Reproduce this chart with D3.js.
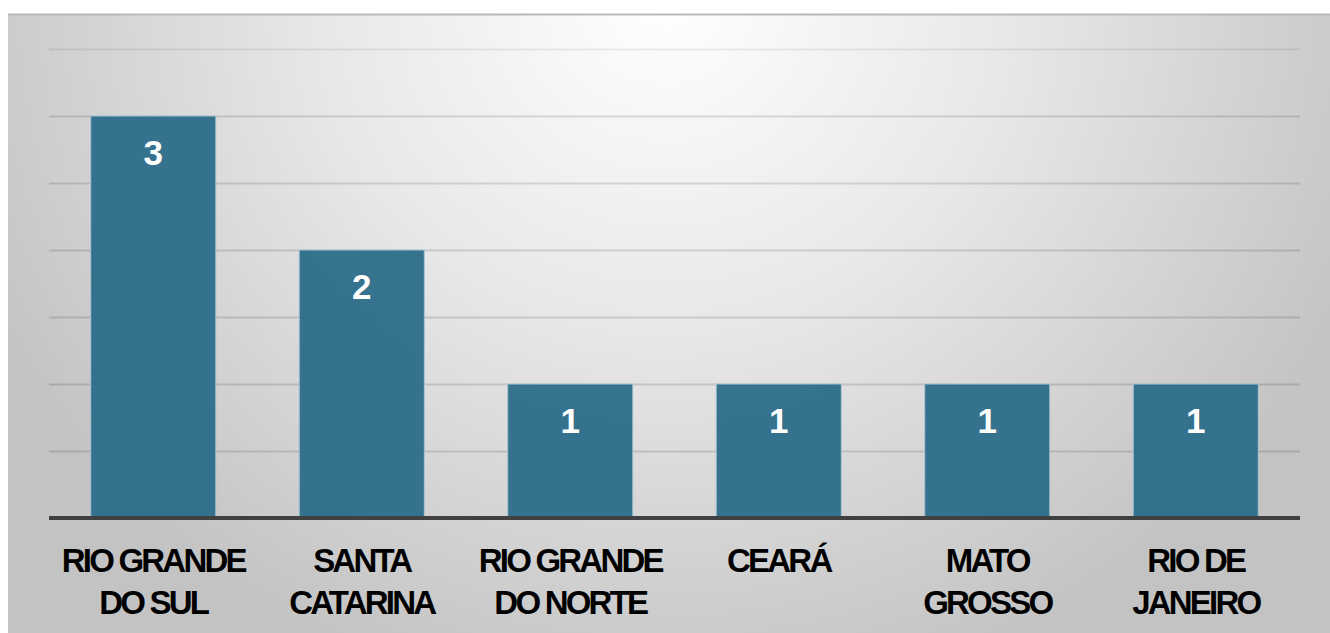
<!DOCTYPE html>
<html>
<head>
<meta charset="utf-8">
<script src="https://cdn.jsdelivr.net/npm/d3@7"></script>
<style>
  html, body { margin: 0; padding: 0; background: #ffffff; }
  svg { display: block; }
</style>
</head>
<body>
<svg id="chart" width="1330" height="633"></svg>
<script>
// States and their counts
const states = [
  ["RIO GRANDE", "DO SUL"],
  ["SANTA", "CATARINA"],
  ["RIO GRANDE", "DO NORTE"],
  ["CEARÁ"],
  ["MATO", "GROSSO"],
  ["RIO DE", "JANEIRO"]
];
const counts = [3, 2, 1, 1, 1, 1];
const gridValues = [0.5, 1, 1.5, 2, 2.5, 3, 3.5];

const W = 1330, H = 633;
const svg = d3.select("#chart");
const defs = svg.append("defs");

// Soft grey panel, bright near the top centre
const bg = defs.append("radialGradient")
  .attr("id", "panelGrad")
  .attr("gradientUnits", "userSpaceOnUse")
  .attr("cx", 665).attr("cy", 0).attr("r", 760)
  .attr("gradientTransform", "translate(665,0) scale(1,0.95) translate(-665,0)");
bg.append("stop").attr("offset", "0").attr("stop-color", "#ffffff");
bg.append("stop").attr("offset", "0.45").attr("stop-color", "#e8e8e8");
bg.append("stop").attr("offset", "1").attr("stop-color", "#c3c3c3");

svg.append("rect")
  .attr("x", 8).attr("y", 14)
  .attr("width", W - 8).attr("height", H - 14)
  .attr("fill", "url(#panelGrad)");
svg.append("line")
  .attr("x1", 8).attr("x2", W).attr("y1", 14.5).attr("y2", 14.5)
  .attr("stroke", "#b9b9b9").attr("stroke-width", 2);

const x = d3.scaleBand()
  .domain(d3.range(counts.length))
  .range([49, 1300])
  .paddingInner(0.4)
  .paddingOuter(0.2);
const y = d3.scaleLinear().domain([0, 3.5]).range([518, 49]);

// Horizontal gridlines
svg.append("g")
  .selectAll("line")
  .data(gridValues)
  .join("line")
  .attr("x1", 49).attr("x2", 1300)
  .attr("y1", d => Math.round(y(d)) + 0.5)
  .attr("y2", d => Math.round(y(d)) + 0.5)
  .attr("stroke", d => d === 3.5 ? "rgba(0,0,0,0.07)" : "rgba(0,0,0,0.13)")
  .attr("stroke-width", 2);

// Bars
svg.append("g")
  .selectAll("rect")
  .data(counts)
  .join("rect")
  .attr("x", (d, i) => x(i))
  .attr("y", d => y(d))
  .attr("width", x.bandwidth())
  .attr("height", d => y(0) - y(d))
  .attr("fill", "#2b6b89")
  .attr("fill-opacity", 0.94)
  .attr("stroke", "#a9c6d3")
  .attr("stroke-width", 1);

// Baseline axis
svg.append("line")
  .attr("x1", 49).attr("x2", 1300)
  .attr("y1", 518).attr("y2", 518)
  .attr("stroke", "#404040").attr("stroke-width", 4);

// Value labels inside the bars
svg.append("g")
  .selectAll("text")
  .data(counts)
  .join("text")
  .attr("x", (d, i) => x(i) + x.bandwidth() / 2)
  .attr("y", d => y(d) + 49)
  .attr("text-anchor", "middle")
  .attr("font-family", "Liberation Sans, Arial, sans-serif")
  .attr("font-weight", "bold")
  .attr("font-size", 35)
  .attr("fill", "#ffffff")
  .text(d => d);

// Category labels under the axis
const lbl = svg.append("g")
  .selectAll("text")
  .data(states)
  .join("text")
  .attr("text-anchor", "middle")
  .attr("font-family", "Liberation Sans, Arial, sans-serif")
  .attr("font-weight", "bold")
  .attr("font-size", 33)
  .attr("letter-spacing", "-2.8px")
  .attr("fill", "#000000");
lbl.each(function (lines, i) {
  const t = d3.select(this);
  lines.forEach((s, k) => {
    t.append("tspan")
      .attr("x", x(i) + x.bandwidth() / 2)
      .attr("y", 572 + k * 42)
      .text(s);
  });
});
</script>
</body>
</html>
